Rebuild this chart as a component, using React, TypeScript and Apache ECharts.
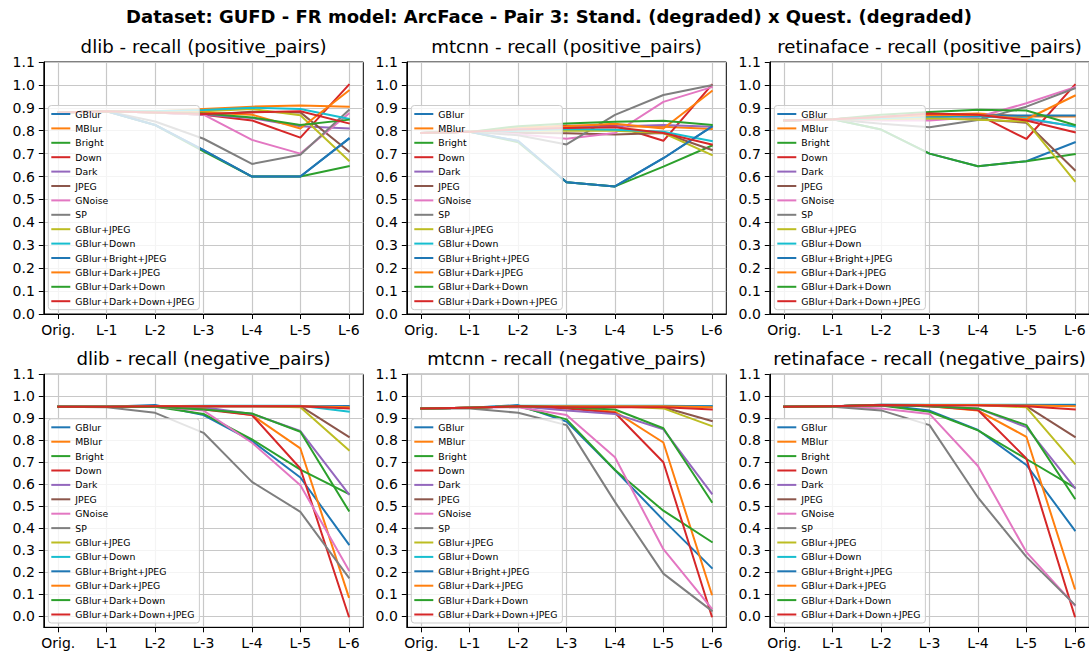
import React, { useEffect, useRef } from 'react';
import * as echarts from 'echarts';

const CATEGORIES = ['Orig.', 'L-1', 'L-2', 'L-3', 'L-4', 'L-5', 'L-6'];
const X_TICKS = [0, 1, 2, 3, 4, 5, 6];
const Y_TICKS = [0.0, 0.1, 0.2, 0.3, 0.4, 0.5, 0.6, 0.7, 0.8, 0.9, 1.0, 1.1];

const SERIES_NAMES = [
  'GBlur', 'MBlur', 'Bright', 'Down', 'Dark', 'JPEG', 'GNoise', 'SP',
  'GBlur+JPEG', 'GBlur+Down', 'GBlur+Bright+JPEG', 'GBlur+Dark+JPEG',
  'GBlur+Dark+Down', 'GBlur+Dark+Down+JPEG',
];
const COLORS = [
  '#1f77b4', '#ff7f0e', '#2ca02c', '#d62728', '#9467bd', '#8c564b', '#e377c2',
  '#7f7f7f', '#bcbd22', '#17becf', '#1f77b4', '#ff7f0e', '#2ca02c', '#d62728',
];

const MAIN_TITLE = 'Dataset: GUFD - FR model: ArcFace - Pair 3: Stand. (degraded) x Quest. (degraded)';
const PANEL_TITLES = [
  'dlib - recall (positive_pairs)',
  'mtcnn - recall (positive_pairs)',
  'retinaface - recall (positive_pairs)',
  'dlib - recall (negative_pairs)',
  'mtcnn - recall (negative_pairs)',
  'retinaface - recall (negative_pairs)',
];

// rows follow SERIES_NAMES order; columns follow CATEGORIES
const DLIB_POSITIVE = [
  [0.88, 0.885, 0.825, 0.715, 0.6, 0.6, 0.765],
  [0.88, 0.885, 0.885, 0.895, 0.905, 0.91, 0.905],
  [0.88, 0.885, 0.825, 0.71, 0.6, 0.6, 0.645],
  [0.88, 0.885, 0.88, 0.87, 0.845, 0.77, 1.0],
  [0.88, 0.885, 0.88, 0.87, 0.855, 0.82, 0.81],
  [0.88, 0.885, 0.88, 0.87, 0.883, 0.88, 0.71],
  [0.88, 0.885, 0.88, 0.87, 0.76, 0.7, 0.875],
  [0.88, 0.885, 0.84, 0.765, 0.655, 0.695, 0.89],
  [0.88, 0.885, 0.885, 0.885, 0.895, 0.868, 0.67],
  [0.88, 0.885, 0.885, 0.89, 0.9, 0.895, 0.852],
  [0.88, 0.885, 0.825, 0.715, 0.6, 0.6, 0.765],
  [0.88, 0.885, 0.88, 0.88, 0.87, 0.81, 0.975],
  [0.88, 0.885, 0.88, 0.875, 0.858, 0.825, 0.848],
  [0.88, 0.885, 0.88, 0.873, 0.88, 0.885, 0.832],
];
const MTCNN_POSITIVE = [
  [0.79, 0.795, 0.755, 0.575, 0.557, 0.68, 0.818],
  [0.79, 0.795, 0.81, 0.818, 0.82, 0.817, 0.808],
  [0.79, 0.795, 0.75, 0.575, 0.557, 0.643, 0.735],
  [0.79, 0.795, 0.81, 0.822, 0.822, 0.756, 1.0],
  [0.79, 0.795, 0.81, 0.815, 0.818, 0.825, 0.818],
  [0.79, 0.795, 0.79, 0.789, 0.784, 0.79, 0.716],
  [0.79, 0.795, 0.785, 0.765, 0.79, 0.926, 0.99],
  [0.79, 0.795, 0.78, 0.74, 0.869, 0.956, 0.999],
  [0.79, 0.795, 0.8, 0.8, 0.8, 0.79, 0.694],
  [0.79, 0.795, 0.8, 0.808, 0.804, 0.796, 0.755],
  [0.79, 0.795, 0.755, 0.575, 0.557, 0.68, 0.818],
  [0.79, 0.795, 0.815, 0.82, 0.83, 0.81, 0.973],
  [0.79, 0.795, 0.82, 0.832, 0.839, 0.844, 0.825],
  [0.79, 0.795, 0.805, 0.812, 0.815, 0.79, 0.74],
];
const RETINAFACE_POSITIVE = [
  [0.845, 0.85, 0.805, 0.7, 0.645, 0.667, 0.749],
  [0.845, 0.85, 0.86, 0.87, 0.875, 0.862, 0.862],
  [0.845, 0.85, 0.805, 0.7, 0.645, 0.667, 0.698],
  [0.845, 0.85, 0.86, 0.87, 0.87, 0.764, 1.0],
  [0.845, 0.85, 0.855, 0.86, 0.865, 0.85, 0.82],
  [0.845, 0.85, 0.85, 0.855, 0.85, 0.835, 0.628],
  [0.845, 0.85, 0.845, 0.845, 0.86, 0.92, 0.99],
  [0.845, 0.85, 0.83, 0.815, 0.847, 0.905, 0.985],
  [0.845, 0.85, 0.85, 0.855, 0.848, 0.84, 0.58],
  [0.845, 0.85, 0.855, 0.862, 0.863, 0.855, 0.818],
  [0.845, 0.85, 0.86, 0.866, 0.866, 0.866, 0.866],
  [0.845, 0.85, 0.86, 0.868, 0.87, 0.85, 0.953],
  [0.845, 0.85, 0.87, 0.882, 0.892, 0.888, 0.825],
  [0.845, 0.85, 0.86, 0.875, 0.87, 0.845, 0.793],
];
const DLIB_NEGATIVE = [
  [0.953, 0.953, 0.96, 0.915, 0.797, 0.631, 0.327],
  [0.953, 0.953, 0.953, 0.945, 0.915, 0.763, 0.088],
  [0.953, 0.953, 0.953, 0.92, 0.804, 0.667, 0.556],
  [0.953, 0.953, 0.953, 0.94, 0.915, 0.672, 0.0],
  [0.953, 0.953, 0.953, 0.95, 0.92, 0.842, 0.556],
  [0.953, 0.953, 0.955, 0.955, 0.955, 0.955, 0.816],
  [0.953, 0.953, 0.953, 0.935, 0.789, 0.596, 0.21],
  [0.953, 0.95, 0.925, 0.834, 0.611, 0.475, 0.176],
  [0.953, 0.953, 0.955, 0.955, 0.955, 0.95, 0.756],
  [0.953, 0.953, 0.955, 0.957, 0.957, 0.957, 0.93],
  [0.953, 0.953, 0.955, 0.955, 0.955, 0.955, 0.956],
  [0.953, 0.953, 0.955, 0.955, 0.955, 0.955, 0.95],
  [0.953, 0.953, 0.953, 0.94, 0.922, 0.839, 0.48],
  [0.953, 0.953, 0.955, 0.955, 0.955, 0.955, 0.945],
];
const MTCNN_NEGATIVE = [
  [0.945, 0.948, 0.96, 0.885, 0.665, 0.437, 0.22],
  [0.945, 0.948, 0.955, 0.95, 0.93, 0.79, 0.1],
  [0.945, 0.948, 0.955, 0.895, 0.665, 0.48, 0.338],
  [0.945, 0.948, 0.955, 0.945, 0.925, 0.7, 0.0],
  [0.945, 0.948, 0.955, 0.935, 0.92, 0.85, 0.558],
  [0.945, 0.948, 0.955, 0.955, 0.955, 0.95, 0.888],
  [0.945, 0.948, 0.95, 0.915, 0.723, 0.305, 0.035],
  [0.945, 0.945, 0.925, 0.869, 0.52, 0.194, 0.025],
  [0.945, 0.948, 0.955, 0.955, 0.955, 0.945, 0.865],
  [0.945, 0.948, 0.957, 0.957, 0.957, 0.957, 0.955],
  [0.945, 0.948, 0.955, 0.955, 0.955, 0.955, 0.955],
  [0.945, 0.948, 0.955, 0.955, 0.955, 0.955, 0.95],
  [0.945, 0.948, 0.955, 0.95, 0.94, 0.855, 0.52],
  [0.945, 0.948, 0.955, 0.95, 0.95, 0.95, 0.94],
];
const RETINAFACE_NEGATIVE = [
  [0.953, 0.955, 0.96, 0.935, 0.847, 0.688, 0.391],
  [0.953, 0.955, 0.96, 0.955, 0.935, 0.816, 0.126],
  [0.953, 0.955, 0.958, 0.93, 0.845, 0.715, 0.585],
  [0.953, 0.955, 0.96, 0.955, 0.938, 0.717, 0.0],
  [0.953, 0.955, 0.96, 0.955, 0.945, 0.86, 0.584],
  [0.953, 0.955, 0.962, 0.96, 0.96, 0.955, 0.816],
  [0.953, 0.955, 0.945, 0.92, 0.683, 0.292, 0.05],
  [0.953, 0.952, 0.936, 0.869, 0.54, 0.27, 0.053],
  [0.953, 0.955, 0.96, 0.96, 0.96, 0.95, 0.694],
  [0.953, 0.955, 0.962, 0.962, 0.962, 0.962, 0.962],
  [0.953, 0.955, 0.96, 0.96, 0.96, 0.96, 0.96],
  [0.953, 0.955, 0.96, 0.96, 0.96, 0.958, 0.955],
  [0.953, 0.955, 0.96, 0.955, 0.945, 0.869, 0.536],
  [0.953, 0.955, 0.96, 0.958, 0.958, 0.955, 0.94],
];

const PANELS = [DLIB_POSITIVE, MTCNN_POSITIVE, RETINAFACE_POSITIVE, DLIB_NEGATIVE, MTCNN_NEGATIVE, RETINAFACE_NEGATIVE];

// layout (px)
const COL_LEFT = [43.8, 406.8, 769.8];
const GRID_W = 319.5;
const ROW_TOP = [62, 374.3];
const ROW_H = [252, 253];
const ROW_YMIN = [0, -0.05];
const FONT = '"DejaVu Sans", sans-serif';

function buildOption() {
  const grid: any[] = [];
  const xAxis: any[] = [];
  const yAxis: any[] = [];
  const series: any[] = [];
  const legend: any[] = [];
  const graphic: any[] = [];

  graphic.push({
    type: 'text',
    x: 549,
    y: 16,
    style: {
      text: MAIN_TITLE,
      fontSize: 18,
      fontWeight: 'bold',
      fontFamily: FONT,
      fill: '#000',
      align: 'center',
      verticalAlign: 'middle',
      textAlign: 'center',
      textVerticalAlign: 'middle',
    },
  });

  PANELS.forEach((panel, i) => {
    const row = Math.floor(i / 3);
    const col = i % 3;
    const left = COL_LEFT[col];
    const top = ROW_TOP[row];
    grid.push({
      left,
      top,
      width: GRID_W,
      height: ROW_H[row],
      show: true,
      borderColor: '#000',
      borderWidth: 1,
      backgroundColor: 'transparent',
      containLabel: false,
      outerBoundsMode: 'none',
    });
    xAxis.push({
      type: 'value',
      gridIndex: i,
      min: -0.3,
      max: 6.3,
      axisLine: { show: true, onZero: false, lineStyle: { color: '#000', width: 1 } },
      axisTick: { show: true, length: 5, customValues: X_TICKS, lineStyle: { color: '#000', width: 1 } },
      axisLabel: {
        customValues: X_TICKS,
        formatter: (v: number) => CATEGORIES[Math.round(v)],
        fontSize: 14,
        fontFamily: FONT,
        color: '#000',
        margin: 9,
      },
      splitLine: { show: true, lineStyle: { color: '#c8c8c8', width: 1.2 } },
    });
    yAxis.push({
      type: 'value',
      gridIndex: i,
      min: ROW_YMIN[row],
      max: 1.1,
      axisLine: { show: true, onZero: false, lineStyle: { color: '#000', width: 1 } },
      axisTick: { show: true, length: 5, customValues: Y_TICKS, lineStyle: { color: '#000', width: 1 } },
      axisLabel: {
        customValues: Y_TICKS,
        formatter: (v: number) => v.toFixed(1),
        fontSize: 14,
        fontFamily: FONT,
        color: '#000',
        margin: 9,
      },
      splitLine: { show: true, lineStyle: { color: '#c8c8c8', width: 1.2 } },
    });
    panel.forEach((vals, s) => {
      series.push({
        type: 'line',
        name: SERIES_NAMES[s],
        xAxisIndex: i,
        yAxisIndex: i,
        data: vals.map((v, k) => [X_TICKS[k], v]),
        showSymbol: false,
        symbol: 'none',
        color: COLORS[s],
        lineStyle: { width: 2, color: COLORS[s], join: 'round', cap: 'square' },
        itemStyle: { color: COLORS[s] },
        emphasis: { disabled: true },
        z: 2,
      });
    });
    legend.push({
      orient: 'vertical',
      left: left + 4.5,
      top: top + ROW_H[row] - 4.5 - 204,
      data: SERIES_NAMES,
      icon: 'rect',
      itemWidth: 19,
      itemHeight: 2,
      itemGap: 4.4,
      padding: [3.5, 5, 3.5, 3],
      backgroundColor: 'rgba(255,255,255,0.8)',
      borderColor: '#cccccc',
      borderWidth: 1,
      borderRadius: 3,
      selectedMode: false,
      textStyle: { fontSize: 9.3, lineHeight: 10, color: '#000', fontFamily: FONT },
    });
    graphic.push({
      type: 'text',
      x: left + GRID_W / 2,
      y: top - 16,
      style: {
        text: PANEL_TITLES[i],
        fontSize: 18.2,
        fontFamily: FONT,
        fill: '#000',
        align: 'center',
        verticalAlign: 'middle',
        textAlign: 'center',
        textVerticalAlign: 'middle',
      },
    });
  });

  return {
    animation: false,
    backgroundColor: '#fff',
    textStyle: { fontFamily: FONT },
    grid,
    xAxis,
    yAxis,
    series,
    legend,
    graphic,
    tooltip: { show: false },
  };
}

export default function App() {
  const ref = useRef<HTMLDivElement>(null);
  useEffect(() => {
    if (!ref.current) return;
    const chart = echarts.init(ref.current, null, { renderer: 'svg' });
    chart.setOption(buildOption());
    return () => chart.dispose();
  }, []);
  return (
    <div
      ref={ref}
      style={{ position: 'absolute', left: 0, top: 0, width: 1089, height: 656, background: '#fff' }}
    />
  );
}
